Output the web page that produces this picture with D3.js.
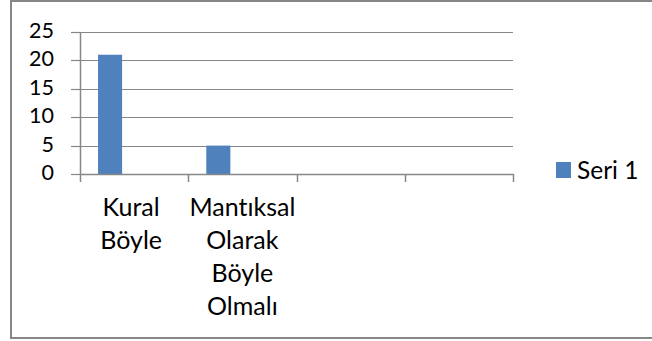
<!DOCTYPE html>
<html>
<head>
<meta charset="utf-8">
<script src="https://cdn.jsdelivr.net/npm/d3@7"></script>
<style>
  html, body { margin: 0; padding: 0; background: #fff; }
  svg { display: block; }
  text { font-family: Lato, "Noto Sans", sans-serif; fill: #000; font-variant-ligatures: none; font-feature-settings: "liga" 0; }
</style>
</head>
<body>
<svg id="chart" width="652" height="341"></svg>
<script>
// Category labels, one array of lines per category (last two slots are empty)
const categories = [
  ["Kural", "Böyle"],
  ["Mantıksal", "Olarak", "Böyle", "Olmalı"],
  [],
  []
];
// Series slots of the clustered layout; only "Seri 1" carries values
const seriesNames = ["Seri 1", "Seri 2", "Seri 3"];
const seri1 = [21, 5, null, null];
const seri2 = [null, null, null, null];
const seri3 = [null, null, null, null];
const seriesValues = [seri1, seri2, seri3];
const yTicks = [0, 5, 10, 15, 20, 25];

const gridColor = "#878787";
const barColor = "#4f81bd";

const svg = d3.select("#chart");

// Outer chart frame (runs past the right edge)
svg.append("rect")
  .attr("x", 11).attr("y", 1)
  .attr("width", 700).attr("height", 337)
  .attr("fill", "#fff")
  .attr("stroke", gridColor)
  .attr("stroke-width", 2);

const plot = { left: 80, right: 513, top: 32, bottom: 174 };

const y = d3.scaleLinear().domain([0, 25]).range([plot.bottom, plot.top]);

const x0 = d3.scaleBand()
  .domain(d3.range(categories.length))
  .range([plot.left, plot.right])
  .paddingInner(1 / 3)
  .paddingOuter(1 / 6);

const x1 = d3.scaleBand()
  .domain(d3.range(seriesNames.length))
  .range([0, x0.bandwidth()]);

const step = x0.step();

// Horizontal gridlines
svg.append("g")
  .selectAll("line")
  .data(yTicks.filter(t => t > 0))
  .join("line")
  .attr("x1", plot.left).attr("x2", plot.right)
  .attr("y1", d => Math.round(y(d)) + 0.5)
  .attr("y2", d => Math.round(y(d)) + 0.5)
  .attr("stroke", gridColor)
  .attr("stroke-width", 1.2);

// Bars
const barData = [];
seriesValues.forEach((vals, s) => {
  vals.forEach((v, i) => { if (v != null) barData.push({ i, s, v }); });
});
svg.append("g")
  .selectAll("rect")
  .data(barData)
  .join("rect")
  .attr("x", d => x0(d.i) + x1(d.s))
  .attr("width", x1.bandwidth())
  .attr("y", d => y(d.v))
  .attr("height", d => y(0) - y(d.v))
  .attr("fill", barColor);

// Y axis line, tick marks and labels
const yAxis = svg.append("g");
yAxis.append("line")
  .attr("x1", plot.left + 0.5).attr("x2", plot.left + 0.5)
  .attr("y1", plot.top).attr("y2", plot.bottom)
  .attr("stroke", gridColor).attr("stroke-width", 1.5);
yAxis.selectAll("line.tick")
  .data(yTicks)
  .join("line")
  .attr("class", "tick")
  .attr("x1", plot.left - 9).attr("x2", plot.left)
  .attr("y1", d => Math.round(y(d)) + 0.5)
  .attr("y2", d => Math.round(y(d)) + 0.5)
  .attr("stroke", gridColor).attr("stroke-width", 1.2);
yAxis.selectAll("text")
  .data(yTicks)
  .join("text")
  .attr("x", 54)
  .attr("y", d => y(d) + 6)
  .attr("text-anchor", "end")
  .attr("font-size", 21.5)
  .text(d => d);

// X axis line, tick marks and labels
const xAxis = svg.append("g");
xAxis.append("line")
  .attr("x1", plot.left).attr("x2", plot.right + 0.5)
  .attr("y1", Math.round(y(0)) + 0.5).attr("y2", Math.round(y(0)) + 0.5)
  .attr("stroke", gridColor).attr("stroke-width", 1.5);
const boundaries = d3.range(categories.length + 1).map(k => plot.left + k * step);
xAxis.selectAll("line.tick")
  .data(boundaries)
  .join("line")
  .attr("class", "tick")
  .attr("x1", d => Math.round(d) + 0.5).attr("x2", d => Math.round(d) + 0.5)
  .attr("y1", plot.bottom).attr("y2", plot.bottom + 8)
  .attr("stroke", gridColor).attr("stroke-width", 1.5);
categories.forEach((lines, i) => {
  const cx = plot.left + (i + 0.5) * step;
  const t = xAxis.append("text")
    .attr("text-anchor", "middle")
    .attr("font-size", 25);
  lines.forEach((ln, k) => {
    t.append("tspan").attr("x", cx - (i === 0 ? 3 : 0)).attr("y", 216 + k * 33).text(ln);
  });
});

// Legend: only series that hold data
const legendItems = seriesNames.filter((n, s) => seriesValues[s].some(v => v != null));
const legend = svg.append("g");
legendItems.forEach((name, k) => {
  legend.append("rect")
    .attr("x", 556).attr("y", 162 + k * 30)
    .attr("width", 15).attr("height", 16)
    .attr("fill", barColor);
  legend.append("text")
    .attr("x", 577).attr("y", 178.5 + k * 30)
    .attr("font-size", 24.5)
    .text(name);
});
</script>
</body>
</html>
